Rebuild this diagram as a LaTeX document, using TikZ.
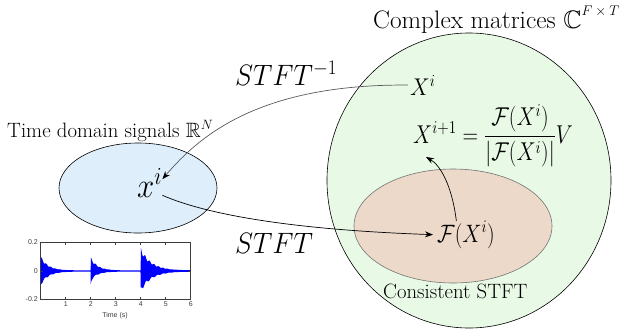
\RequirePackage{fix-cm}
\documentclass[tikz,border=0pt]{standalone}
\usepackage{graphicx}
\usepackage{amsmath,amssymb}
\usepackage{fontspec}
\newfontfamily\plotfont{Liberation Sans}
\newcommand\mysup[2]{\mbox{\fontsize{#1}{#1}\selectfont$#2$}}
\usetikzlibrary{shapes.geometric,arrows.meta,calc}
\definecolor{bigfill}{RGB}{232,250,230}
\definecolor{innerfill}{RGB}{236,217,202}
\definecolor{leftfill}{RGB}{222,239,251}
\definecolor{wave}{RGB}{0,0,255}
\definecolor{axisgray}{RGB}{60,60,60}
\begin{document}
\begin{tikzpicture}[x=1pt,y=-1pt,
  region/.style={ellipse, inner sep=0pt, line width=0.6pt},
  txt/.style={inner sep=0pt, anchor=base west},
  conn/.style={line width=0.7pt, -{Stealth[length=8pt,width=6pt,color=black]}},
  axisline/.style={draw=axisgray, line width=0.5pt},
  ticklab/.style={inner sep=0pt, font=\plotfont\fontsize{7}{8}\selectfont, text=axisgray},
  declare function={
    dec(\a)=exp(max(-\a,-12));
    up(\t)=0.004+(0.10*dec(\t/0.30)+(\t>1.999)*0.092*dec(max(\t-2,0)/0.28)+(\t>3.999)*0.158*dec(max(\t-4,0)/0.42))*(0.88+0.12*sin(\t*2003));
    lo(\t)=0.004+(0.097*dec(\t/0.30)+(\t>1.999)*(0.06*dec(max(\t-2,0)/0.28)+0.05*dec(max(\t-2,0)/0.03))+(\t>3.999)*0.142*dec(max(\t-4,0)/0.42))*(0.88+0.12*sin(\t*1601));
  }]
\useasboundingbox (0,0) rectangle (619,335);

% regions
\node[region, draw=black, fill=bigfill, minimum width=284pt, minimum height=295pt] (big) at (469,180.5) {};
\node[region, draw=black!55, fill=innerfill, minimum width=198pt, minimum height=114pt] (cons) at (453,226) {};
\node[region, draw=black, fill=leftfill, minimum width=158pt, minimum height=90pt] (time) at (138,188) {};

% titles
\node[txt, font=\fontsize{25.3}{30}\selectfont] (ctitle) at (373,28) {Complex matrices $\mathbb{C}^{\raisebox{3pt}{\mysup{14}{F\times T}}}$};
\node[txt, font=\fontsize{20.74}{25}\selectfont] (ttitle) at (7,137) {Time domain signals $\mathbb{R}^{\mysup{13.5}{N}}$};
\node[txt, font=\fontsize{20.74}{25}\selectfont] (stitle) at (383,298) {Consistent STFT};

% math nodes
\node[txt, font=\fontsize{31}{36}\selectfont] (xi) at (137,197) {\scalebox{1}[1.13]{$x^i$}};
\node[txt, font=\fontsize{22}{27}\selectfont] (Xi) at (410,95) {\scalebox{1}[1.1]{$X^i$}};
\node[txt, font=\fontsize{21.5}{26}\selectfont] (FX) at (437,242) {\scalebox{1}[1.17]{$\mathcal{F}(X^i)$}};
\node[txt, font=\fontsize{21.5}{26}\selectfont] (eq) at (413,143) {\scalebox{1}[1.2]{$X^{i+1}=\dfrac{\mathcal{F}(X^i)}{\left|\mathcal{F}(X^i)\right|}V$}};
\node[txt, font=\fontsize{27.3}{33}\selectfont] (istft) at (235,85) {\scalebox{1}[1.08]{$STFT^{-1}$}};
\node[txt, font=\fontsize{27.3}{33}\selectfont] (stft) at (235,253) {\scalebox{1}[1.08]{$STFT$}};
\coordinate (eqtip) at (426,157);

% connectors
\draw[conn, draw=black!65] ([xshift=-2pt]Xi.west) .. controls (260,84) and (200,135) .. (xi.15);
\draw[conn, shorten >=4pt] (xi.-45) .. controls (210,216) and (300,230) .. (FX.west);
\draw[conn] (FX.125) .. controls (452,185) and (440,165) .. (eqtip);

% small signal plot
\fill[wave] plot[domain=0:6,samples=601] ({40.7+25*\x},{271-145*up(\x)})
  -- plot[domain=6:0,samples=601] ({40.7+25*\x},{271+145*lo(\x)}) -- cycle;
\draw[axisline] (40.7,242) rectangle (190.7,299.5);
\foreach \i in {1,...,5} {
  \draw[axisline] ({40.7+25*\i},299.5) -- ++(0,-2.5);
  \draw[axisline] ({40.7+25*\i},242) -- ++(0,2.5);
}
\draw[axisline] (40.7,271) -- ++(2.5,0);
\draw[axisline] (190.7,271) -- ++(-2.5,0);
\foreach \i in {1,...,6} {
  \node[ticklab, anchor=north] at ({40.7+25*\i},301.5) {\i};
}
\node[ticklab, anchor=east] at (38,242) {0.2};
\node[ticklab, anchor=east] at (38,271) {0};
\node[ticklab, anchor=east] at (38,299.5) {-0.2};
\node[ticklab] at (115,315.5) {Time (s)};
\end{tikzpicture}
\end{document}
